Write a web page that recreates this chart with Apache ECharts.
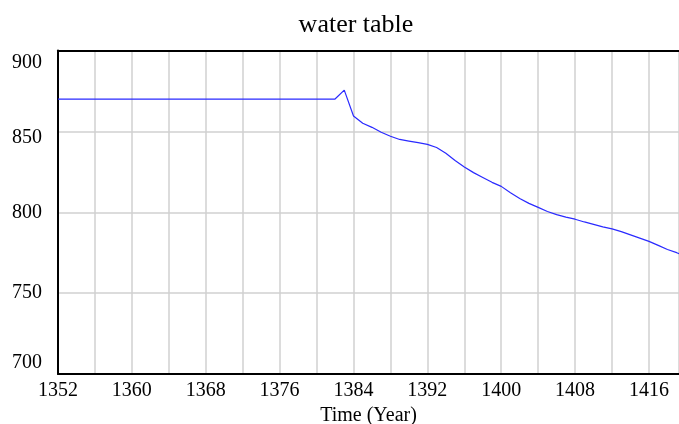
<!DOCTYPE html>
<html><head><meta charset="utf-8">
<script src="https://cdn.jsdelivr.net/npm/echarts@6/dist/echarts.min.js"></script>
<style>html,body{margin:0;padding:0;background:#fff;}#c{width:679px;height:424px;}</style>
</head><body><div id="c"></div>
<script>
var years = [];
for (var y = 1352; y <= 1420; y++) years.push(y);
var waterTable = [
870,870,870,870,870,870,870,870,870,870,
870,870,870,870,870,870,870,870,870,870,
870,870,870,870,870,870,870,870,870,870,
870,
875.5,859.5,855,852.5,849.5,847,845,844,843,842,
840,836.5,832,828,824.5,821.5,818.5,816,812,808.5,
805.5,803,800.5,798.5,797,795.7,794,792.5,791,789.7,
788,786,784,782,779.5,777,775,772.5
];
var yTicks = [700, 750, 800, 850, 900];
var xLabelYears = [1352, 1360, 1368, 1376, 1384, 1392, 1400, 1408, 1416];
var xVisibleMax = 1419.25;

var data = years.map(function (yr, i) { return [yr, waterTable[i]]; });
var serif = 'Liberation Serif';
var chart = echarts.init(document.getElementById('c'));
chart.setOption({
  animation: false,
  title: { text: 'water table', left: 351, textAlign: 'center', top: 7,
    textStyle: { fontFamily: serif, fontSize: 26, fontWeight: 'normal', color: '#000' } },
  grid: { left: 58, right: 0, top: 50.5, bottom: 50, show: false, containLabel: false, outerBoundsMode: 'none' },
  xAxis: [{
    type: 'value', min: 1352, max: xVisibleMax, interval: 4,
    name: 'Time (Year)', nameLocation: 'middle', nameGap: 28,
    nameTextStyle: { fontFamily: serif, fontSize: 20, color: '#000' },
    axisLine: { show: true, lineStyle: { color: '#000', width: 2 } },
    axisTick: { show: false },
    splitLine: { show: true, lineStyle: { color: '#d0d0d0', width: 1.5 } },
    axisLabel: { fontFamily: serif, fontSize: 20, color: '#000', margin: 7, showMaxLabel: false,
      formatter: function (v) { return xLabelYears.indexOf(v) >= 0 ? String(v) : ''; } }
  }, {
    type: 'value', position: 'top', min: 1352, max: xVisibleMax, interval: 4,
    axisLine: { show: true, lineStyle: { color: '#000', width: 2 } },
    axisTick: { show: false }, axisLabel: { show: false }, splitLine: { show: false }
  }],
  yAxis: {
    type: 'value', min: 700, max: 900, interval: 50,
    axisLine: { show: true, lineStyle: { color: '#000', width: 2 } },
    axisTick: { show: false },
    splitLine: { show: true, lineStyle: { color: '#d0d0d0', width: 1.5 } },
    axisLabel: { fontFamily: serif, fontSize: 20, color: '#000', margin: 16,
      formatter: function (v) {
        if (v === yTicks[4]) return '{t|' + v + '}';
        if (v === yTicks[3]) return '{s|' + v + '}';
        if (v === yTicks[0]) return '{b|' + v + '}';
        return String(v);
      },
      rich: {
        t: { fontFamily: serif, fontSize: 20, color: '#000', padding: [24, 0, 0, 0] },
        s: { fontFamily: serif, fontSize: 20, color: '#000', padding: [12, 0, 0, 0] },
        b: { fontFamily: serif, fontSize: 20, color: '#000', padding: [0, 0, 22, 0] }
      } }
  },
  series: [{
    type: 'line', data: data, showSymbol: false, symbol: 'none', xAxisIndex: 0,
    lineStyle: { color: '#2a2aff', width: 1.2 }
  }]
});
</script></body></html>
